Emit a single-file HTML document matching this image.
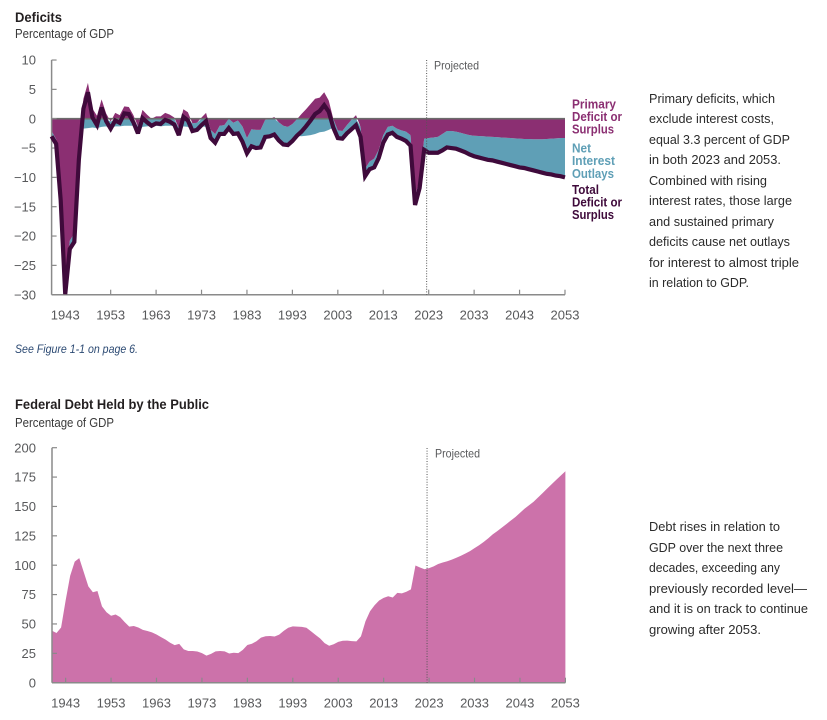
<!DOCTYPE html>
<html>
<head>
<meta charset="utf-8">
<title>Deficits and Federal Debt</title>
<style>
html,body{margin:0;padding:0;background:#fff;}
svg{display:block;font-family:"Liberation Sans",sans-serif;}
.tick{font-size:13px;fill:#58595b;}
.body{font-size:13px;fill:#2b2b2b;}
.leg{font-size:13px;font-weight:bold;}
</style>
</head>
<body>
<svg id="page" xmlns="http://www.w3.org/2000/svg" width="827" height="720" viewBox="0 0 827 720">
  <defs>
    <clipPath id="deficit-clip"><rect x="40" y="50" width="540" height="245.5"/></clipPath>
  </defs>
  <rect width="827" height="720" fill="#fff"/>
  <text x="15" y="22" font-size="13.5" font-weight="bold" fill="#231f20" textLength="47" lengthAdjust="spacingAndGlyphs">Deficits</text>
  <text x="15" y="38" font-size="13" fill="#3a3a3a" textLength="99" lengthAdjust="spacingAndGlyphs">Percentage of GDP</text>
  <text x="15" y="353" font-size="11.5" font-style="italic" fill="#2c4a73" textLength="123" lengthAdjust="spacingAndGlyphs">See Figure 1-1 on page 6.</text>
  <text x="15" y="409" font-size="13.5" font-weight="bold" fill="#231f20" textLength="194" lengthAdjust="spacingAndGlyphs">Federal Debt Held by the Public</text>
  <text x="15" y="427" font-size="13" fill="#3a3a3a" textLength="99" lengthAdjust="spacingAndGlyphs">Percentage of GDP</text>

  <g id="chart1"></g>
  <g id="chart2"></g>

  <g>
    <g class="leg" fill="#8b2f72">
      <text x="572" y="108.5" textLength="44" lengthAdjust="spacingAndGlyphs">Primary</text>
      <text x="572" y="121" textLength="50" lengthAdjust="spacingAndGlyphs">Deficit or</text>
      <text x="572" y="133.5" textLength="42" lengthAdjust="spacingAndGlyphs">Surplus</text>
    </g>
    <g class="leg" fill="#5f9fb6">
      <text x="572" y="152.5" textLength="19" lengthAdjust="spacingAndGlyphs">Net</text>
      <text x="572" y="165" textLength="43" lengthAdjust="spacingAndGlyphs">Interest</text>
      <text x="572" y="178" textLength="42" lengthAdjust="spacingAndGlyphs">Outlays</text>
    </g>
    <g class="leg" fill="#3f0a3b">
      <text x="572" y="194" textLength="27" lengthAdjust="spacingAndGlyphs">Total</text>
      <text x="572" y="206.5" textLength="50" lengthAdjust="spacingAndGlyphs">Deficit or</text>
      <text x="572" y="219" textLength="42" lengthAdjust="spacingAndGlyphs">Surplus</text>
    </g>
  </g>

  <g class="body">
    <text x="649" y="103" textLength="126" lengthAdjust="spacingAndGlyphs">Primary deficits, which</text>
    <text x="649" y="123" textLength="125" lengthAdjust="spacingAndGlyphs">exclude interest costs,</text>
    <text x="649" y="144" textLength="141" lengthAdjust="spacingAndGlyphs">equal 3.3 percent of GDP</text>
    <text x="649" y="164" textLength="132" lengthAdjust="spacingAndGlyphs">in both 2023 and 2053.</text>
    <text x="649" y="185" textLength="118" lengthAdjust="spacingAndGlyphs">Combined with rising</text>
    <text x="649" y="205" textLength="143" lengthAdjust="spacingAndGlyphs">interest rates, those large</text>
    <text x="649" y="226" textLength="125" lengthAdjust="spacingAndGlyphs">and sustained primary</text>
    <text x="649" y="246" textLength="141" lengthAdjust="spacingAndGlyphs">deficits cause net outlays</text>
    <text x="649" y="267" textLength="150" lengthAdjust="spacingAndGlyphs">for interest to almost triple</text>
    <text x="649" y="287" textLength="100" lengthAdjust="spacingAndGlyphs">in relation to GDP.</text>
  </g>
  <g class="body">
    <text x="649" y="531" textLength="131" lengthAdjust="spacingAndGlyphs">Debt rises in relation to</text>
    <text x="649" y="552" textLength="134" lengthAdjust="spacingAndGlyphs">GDP over the next three</text>
    <text x="649" y="572" textLength="131" lengthAdjust="spacingAndGlyphs">decades, exceeding any</text>
    <text x="649" y="593" textLength="158" lengthAdjust="spacingAndGlyphs">previously recorded level—</text>
    <text x="649" y="613" textLength="159" lengthAdjust="spacingAndGlyphs">and it is on track to continue</text>
    <text x="649" y="634" textLength="112" lengthAdjust="spacingAndGlyphs">growing after 2053.</text>
  </g>
</svg>
<script>
const firstYear = 1940;
const xTickYears = [1943, 1953, 1963, 1973, 1983, 1993, 2003, 2013, 2023, 2033, 2043, 2053];
const deficitTicks = [10, 5, 0, -5, -10, -15, -20, -25, -30];
const debtTicks = [200, 175, 150, 125, 100, 75, 50, 25, 0];
const projectionStart = 2022.55;

const totalDeficit = [-3.0,-4.3,-13.9,-29.9,-22.2,-21.0,-7.0,1.7,4.5,0.2,-1.1,1.9,-0.4,-1.7,-0.3,-0.7,0.9,0.8,-0.6,-2.5,0.1,-0.6,-1.2,-0.8,-0.9,-0.2,-0.5,-1.0,-2.8,0.3,-0.3,-2.1,-1.9,-1.1,-0.4,-3.3,-4.1,-2.6,-2.6,-1.6,-2.6,-2.5,-3.9,-5.9,-4.7,-5.0,-4.9,-3.1,-3.0,-2.7,-3.7,-4.4,-4.5,-3.8,-2.9,-2.2,-1.3,-0.3,0.8,1.3,2.3,1.2,-1.5,-3.3,-3.4,-2.5,-1.8,-1.1,-3.1,-9.8,-8.6,-8.3,-6.7,-4.1,-2.7,-2.4,-3.1,-3.4,-3.8,-4.6,-14.7,-11.8,-5.3,-5.8,-5.8,-5.8,-5.4,-4.9,-5.0,-5.1,-5.4,-5.7,-6.1,-6.4,-6.6,-6.8,-7.0,-7.1,-7.3,-7.5,-7.7,-7.9,-8.1,-8.3,-8.4,-8.6,-8.8,-9.0,-9.2,-9.4,-9.5,-9.7,-9.8,-10.0];
const primaryDeficit = [-2.1,-3.5,-13.1,-28.7,-20.8,-19.5,-5.1,3.4,6.1,1.7,0.5,3.3,0.9,-0.5,1.0,0.6,2.1,2.0,0.6,-1.3,1.5,0.7,0.0,0.4,0.4,1.0,0.7,0.2,-1.6,1.6,1.1,-0.8,-0.7,0.2,1.0,-1.9,-2.6,-1.2,-1.1,0.0,-0.7,-0.3,-1.3,-3.3,-1.8,-1.9,-1.9,-0.2,-0.1,0.3,-0.6,-1.2,-1.4,-0.9,-0.1,0.8,1.6,2.5,3.4,3.6,4.5,3.1,0.0,-2.0,-2.1,-1.1,-0.2,0.6,-1.4,-8.5,-7.3,-6.8,-5.3,-2.8,-1.4,-1.2,-1.7,-2.0,-2.2,-2.8,-13.1,-10.6,-3.4,-3.3,-3.2,-3.1,-2.6,-2.1,-2.1,-2.2,-2.4,-2.6,-2.8,-2.9,-2.95,-3.0,-3.05,-3.1,-3.15,-3.2,-3.25,-3.3,-3.35,-3.4,-3.45,-3.45,-3.5,-3.5,-3.5,-3.45,-3.4,-3.35,-3.3,-3.3];
const netInterest = [0.9,0.8,0.8,0.9,1.4,1.5,1.9,1.7,1.6,1.5,1.6,1.4,1.3,1.2,1.3,1.3,1.2,1.2,1.2,1.2,1.4,1.3,1.2,1.2,1.3,1.2,1.2,1.2,1.2,1.3,1.4,1.3,1.2,1.3,1.4,1.4,1.5,1.4,1.5,1.6,1.9,2.2,2.6,2.6,2.9,3.1,3.0,2.9,2.9,3.0,3.1,3.2,3.1,2.9,2.8,3.0,2.9,2.8,2.6,2.3,2.2,1.9,1.5,1.3,1.3,1.4,1.6,1.7,1.7,1.3,1.3,1.5,1.4,1.3,1.3,1.2,1.4,1.4,1.6,1.8,1.6,1.2,1.9,2.5,2.6,2.7,2.8,2.8,2.9,2.9,3.0,3.1,3.3,3.5,3.65,3.8,3.95,4.0,4.15,4.3,4.45,4.6,4.75,4.9,4.95,5.15,5.3,5.5,5.7,5.95,6.1,6.35,6.5,6.7];
const debtHeld = [44.2,42.3,47,70,91,103,106,94,82,77,78,65,60,57,58,55.8,51.6,47.7,48.3,47,45,44,42.8,41,38.8,36.7,34,32,33,28.4,27,27,26.5,25.2,23,24.5,26.7,27,26.7,24.9,25.5,25.2,27.9,32.1,33.1,35.3,38.4,39.5,39.8,39.3,40.9,44.1,46.8,47.9,47.7,47.5,46.8,43.8,40.7,37.7,33.7,31.5,32.7,34.7,35.7,35.8,35.4,35.2,39.4,52.3,60.8,65.9,70,72.2,73.6,72.5,76.4,76,77.4,79.4,99.8,98,96.5,97.5,99,101,102.3,103.4,104.7,106.3,108,110,112,114.5,117,119.7,122.8,126.2,129,132,135,138,141,144.5,148,151,154,157.7,161.5,165.3,169,172.7,176.3,180];

const NS = 'http://www.w3.org/2000/svg';
const COLORS = { axis:'#8a8a8a', zero:'#6b6b6b', primary:'#8b2f72', interest:'#5f9fb6', total:'#3f0a3b', debt:'#cc72aa' };

function xScale(year, offset) { return 51.6 + (year - firstYear) * 4.5433 + offset; }
function deficitY(v) { return 118.7 - v * 5.867; }
function debtY(v) { return 682.7 - v * 1.175; }

function make(parent, tag, attrs) {
  const el = document.createElementNS(NS, tag);
  for (const k in attrs) el.setAttribute(k, attrs[k]);
  parent.appendChild(el);
  return el;
}
function pts(xs, ys) { return xs.map((x, i) => x.toFixed(2) + ',' + ys[i].toFixed(2)).join(' '); }

function drawAxes(g, yScale, yTicks, offset, labelY, top) {
  const bottom = yScale(yTicks[yTicks.length - 1]);
  const left = xScale(firstYear, offset);
  const right = xScale(2053, offset);
  yTicks.forEach(function (t) {
    const y = yScale(t);
    const tk = make(g, 'line', { x1:left, x2:left + 5, y1:y, y2:y, stroke:COLORS.axis, 'stroke-width':1.2 });
    
    
    const lb = make(g, 'text', { x:36, y:y + 4.6, 'text-anchor':'end', class:'tick' });
    lb.textContent = String(t).replace('-', '\u2212');
    
    
  });
  xTickYears.forEach(function (yr) {
    const x = xScale(yr, offset);
    const tk = make(g, 'line', { x1:x, x2:x, y1:bottom, y2:bottom - 5, stroke:COLORS.axis, 'stroke-width':1.2 });
    
    
    const lb = make(g, 'text', { x:x, y:labelY, 'text-anchor':'middle', class:'tick' });
    lb.textContent = String(yr);
    
    
  });
  const ya = make(g, 'line', { x1:left, x2:left, y1:top, y2:bottom, stroke:COLORS.axis, 'stroke-width':1.5 });
  
  
  const xa = make(g, 'line', { x1:left, x2:right, y1:bottom, y2:bottom, stroke:COLORS.axis, 'stroke-width':1.5 });
  
  
}

function drawProjection(g, offset, top, bottom, textX, textY) {
  const x = xScale(projectionStart, offset);
  const ln = make(g, 'line', { x1:x, x2:x, y1:top, y2:bottom, stroke:'#555', 'stroke-width':1, 'stroke-dasharray':'1 1.6' });
  
  
  const t = make(g, 'text', { x:textX, y:textY, 'font-size':12, fill:'#58595b', textLength:45, lengthAdjust:'spacingAndGlyphs' });
  t.textContent = 'Projected';
  
  
}

(function drawDeficits() {
  const g = document.getElementById('chart1');
  const xs = totalDeficit.map((_, i) => xScale(firstYear + i, 0));
  const zero = deficitY(0);
  const rx = xs.slice().reverse();
  const upper = primaryDeficit.map(p => deficitY(Math.min(p, 0)));
  const lower = primaryDeficit.map((p, i) => deficitY(Math.min(p, 0) - netInterest[i]));
  const teal = make(g, 'polygon', { points: pts(xs, upper) + ' ' + pts(rx, lower.slice().reverse()), fill:COLORS.interest });
  
  
  const purple = make(g, 'polygon', { points: xs[0].toFixed(2) + ',' + zero + ' ' + pts(xs, primaryDeficit.map(deficitY)) + ' ' + xs[xs.length - 1].toFixed(2) + ',' + zero, fill:COLORS.primary });
  
  
  const zl = make(g, 'line', { x1:xs[0], x2:xs[xs.length - 1], y1:zero, y2:zero, stroke:COLORS.zero, 'stroke-width':1.6 });
  
  
  drawAxes(g, deficitY, deficitTicks, 0, 319.5, 60);
  const line = make(g, 'polyline', { points: pts(xs, totalDeficit.map(deficitY)), fill:'none', stroke:COLORS.total, 'stroke-width':4.2, 'stroke-linejoin':'miter', 'stroke-miterlimit':3, 'clip-path':'url(#deficit-clip)' });
  
  
  drawProjection(g, 0, 60, 294.7, 434, 69.5);
})();

(function drawDebt() {
  const g = document.getElementById('chart2');
  const xs = debtHeld.map((_, i) => xScale(firstYear + i, 0.4));
  const base = debtY(0);
  const area = make(g, 'polygon', { points: xs[0].toFixed(2) + ',' + base + ' ' + pts(xs, debtHeld.map(debtY)) + ' ' + xs[xs.length - 1].toFixed(2) + ',' + base, fill:COLORS.debt });
  
  
  drawAxes(g, debtY, debtTicks, 0.4, 707.5, 447.7);
  drawProjection(g, 0.4, 448, 682.7, 435, 457.5);
})();
</script>
</body>
</html>
